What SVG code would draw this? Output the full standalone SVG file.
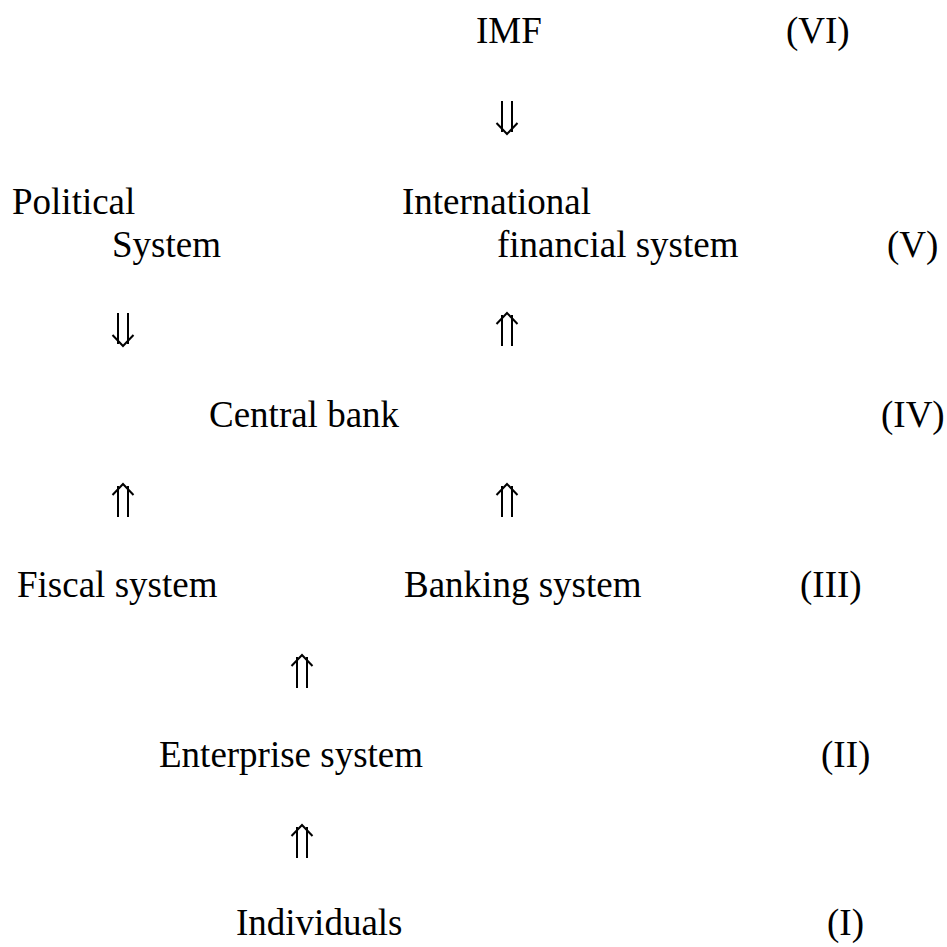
<svg xmlns="http://www.w3.org/2000/svg" width="947" height="947" viewBox="0 0 947 947">
<style>
text{font-family:"Liberation Serif","Times New Roman",serif;font-size:37px;fill:#000}
.arr{fill:none;stroke:#000;stroke-width:2}
</style>
<defs>
<g id="up"><path class="arr" d="M-5,2 V33 M5,2 V33 M-10.5,11 L0,0 L10.5,11"/></g>
<g id="down"><path class="arr" d="M-5,0 V31 M5,0 V31 M-10.5,22 L0,33 L10.5,22"/></g>
</defs>
<rect width="947" height="947" fill="#fff"/>
<g id="imf"><text x="476" y="43">IMF</text></g>
<g id="lvl6"><text x="786" y="43">(VI)</text></g>
<g id="political"><text x="12" y="214">Political</text><text x="112" y="257">System</text></g>
<g id="intl"><text x="402" y="214">International</text><text x="497" y="257">financial system</text></g>
<g id="lvl5"><text x="887" y="257">(V)</text></g>
<g id="central"><text x="209" y="427">Central bank</text></g>
<g id="lvl4"><text x="881" y="427">(IV)</text></g>
<g id="fiscal"><text x="17" y="597">Fiscal system</text></g>
<g id="banking"><text x="404" y="597">Banking system</text></g>
<g id="lvl3"><text x="800" y="597">(III)</text></g>
<g id="enterprise"><text x="159" y="767">Enterprise system</text></g>
<g id="lvl2"><text x="821" y="767">(II)</text></g>
<g id="individuals"><text x="236" y="935">Individuals</text></g>
<g id="lvl1"><text x="827" y="935">(I)</text></g>
<g id="connectors">
<use href="#down" x="507" y="101"/>
<use href="#down" x="123" y="313"/>
<use href="#up" x="507" y="313"/>
<use href="#up" x="123" y="484"/>
<use href="#up" x="507" y="484"/>
<use href="#up" x="302" y="655"/>
<use href="#up" x="302" y="825"/>
</g>
</svg>
